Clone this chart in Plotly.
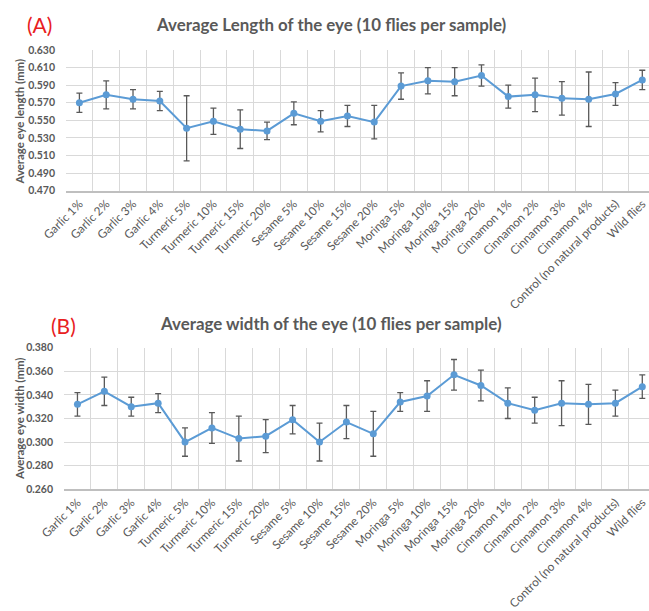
import plotly.graph_objects as go

# Treatment groups (x categories shared by both panels)
categories = [
    "Garlic 1%", "Garlic 2%", "Garlic 3%", "Garlic 4%",
    "Turmeric 5%", "Turmeric 10%", "Turmeric 15%", "Turmeric 20%",
    "Sesame 5%", "Sesame 10%", "Sesame 15%", "Sesame 20%",
    "Moringa 5%", "Moringa 10%", "Moringa 15%", "Moringa 20%",
    "Cinnamon 1%", "Cinnamon 2%", "Cinnamon 3%", "Cinnamon 4%",
    "Control (no natural products)", "Wild flies",
]

# Panel A: average eye length (mm) and error
length_mean = [0.570, 0.579, 0.574, 0.572, 0.541, 0.549, 0.540, 0.538,
               0.558, 0.549, 0.555, 0.548, 0.589, 0.595, 0.594, 0.601,
               0.577, 0.579, 0.575, 0.574, 0.580, 0.596]
length_err = [0.011, 0.016, 0.011, 0.011, 0.037, 0.015, 0.022, 0.010,
              0.013, 0.012, 0.012, 0.019, 0.015, 0.015, 0.016, 0.012,
              0.013, 0.019, 0.019, 0.031, 0.013, 0.011]

# Panel B: average eye width (mm) and error
width_mean = [0.332, 0.343, 0.330, 0.333, 0.300, 0.312, 0.303, 0.305,
              0.319, 0.300, 0.317, 0.307, 0.334, 0.339, 0.357, 0.348,
              0.333, 0.327, 0.333, 0.332, 0.333, 0.347]
width_err = [0.010, 0.012, 0.008, 0.008, 0.012, 0.013, 0.019, 0.014,
             0.012, 0.016, 0.014, 0.019, 0.008, 0.013, 0.013, 0.013,
             0.013, 0.011, 0.019, 0.017, 0.011, 0.010]

length_range = [0.470, 0.630]
width_range = [0.260, 0.380]

W, H = 649, 611
BLUE = "#5B9BD5"
GRAY = "#595959"
GRID = "#D9D9D9"
FONT = "Lato"


def px_x(p):
    return p / W


def px_y(p):
    return 1 - p / H


fig = go.Figure()

for mean, err, xa, ya in [
    (length_mean, length_err, "x", "y"),
    (width_mean, width_err, "x2", "y2"),
]:
    fig.add_trace(go.Scatter(
        x=categories, y=mean, xaxis=xa, yaxis=ya,
        mode="lines+markers",
        line=dict(color=BLUE, width=2),
        marker=dict(color=BLUE, size=7),
        error_y=dict(type="data", array=err, visible=True,
                     color=GRAY, thickness=1.3, width=3),
        showlegend=False,
    ))

xcommon = dict(
    type="category",
    categoryorder="array",
    categoryarray=categories,
    range=[-0.5, 21.25],
    tickson="boundaries",
    showgrid=True, gridcolor=GRID, gridwidth=1,
    ticks="", tickangle=-45,
    tickfont=dict(family=FONT, size=11.8, color=GRAY),
    showline=True, linecolor="#BFBFBF", linewidth=1.5,
    zeroline=False, automargin=False,
)
ycommon = dict(
    dtick=0.02, tickformat=".3f",
    showgrid=True, gridcolor=GRID, gridwidth=1,
    zeroline=False, showline=False, ticks="",
    ticklabelstandoff=10, automargin=False,
    tickfont=dict(family=FONT, size=10.5, color=GRAY, weight="bold"),
)

fig.update_layout(
    width=W, height=H,
    margin=dict(l=0, r=0, t=0, b=0, pad=0, autoexpand=False),
    paper_bgcolor="white", plot_bgcolor="white",
    xaxis=dict(domain=[px_x(66), 1], anchor="y", **xcommon),
    yaxis=dict(domain=[px_y(190.7), px_y(50)], anchor="x",
               range=length_range, tick0=length_range[0], **ycommon),
    xaxis2=dict(domain=[px_x(64), 1], anchor="y2", **xcommon),
    yaxis2=dict(domain=[px_y(489.3), px_y(347.7)], anchor="x2",
                range=width_range, tick0=width_range[0], **ycommon),
)

annotations = [
    dict(text="(A)", x=px_x(39), y=px_y(24),
         font=dict(family=FONT, size=21, color="#E8201E")),
    dict(text="(B)", x=px_x(63), y=px_y(325),
         font=dict(family=FONT, size=21, color="#E8201E")),
    dict(text="Average Length of the eye (10 flies per sample)",
         x=px_x(331.5), y=px_y(25),
         font=dict(family=FONT, size=16.9, color=GRAY, weight="bold")),
    dict(text="Average width of the eye (10 flies per sample)",
         x=px_x(330.5), y=px_y(323),
         font=dict(family=FONT, size=16.9, color=GRAY, weight="bold")),
    dict(text="Average eye length (mm)", x=px_x(19), y=px_y(121.5),
         textangle=-90,
         font=dict(family=FONT, size=11.4, color=GRAY, weight="bold")),
    dict(text="Average eye width (mm)", x=px_x(19), y=px_y(419),
         textangle=-90,
         font=dict(family=FONT, size=11.4, color=GRAY, weight="bold")),
]
for a in annotations:
    a.update(xref="paper", yref="paper", showarrow=False,
             xanchor="center", yanchor="middle")
fig.update_layout(annotations=annotations)

fig.write_html("out.html")
